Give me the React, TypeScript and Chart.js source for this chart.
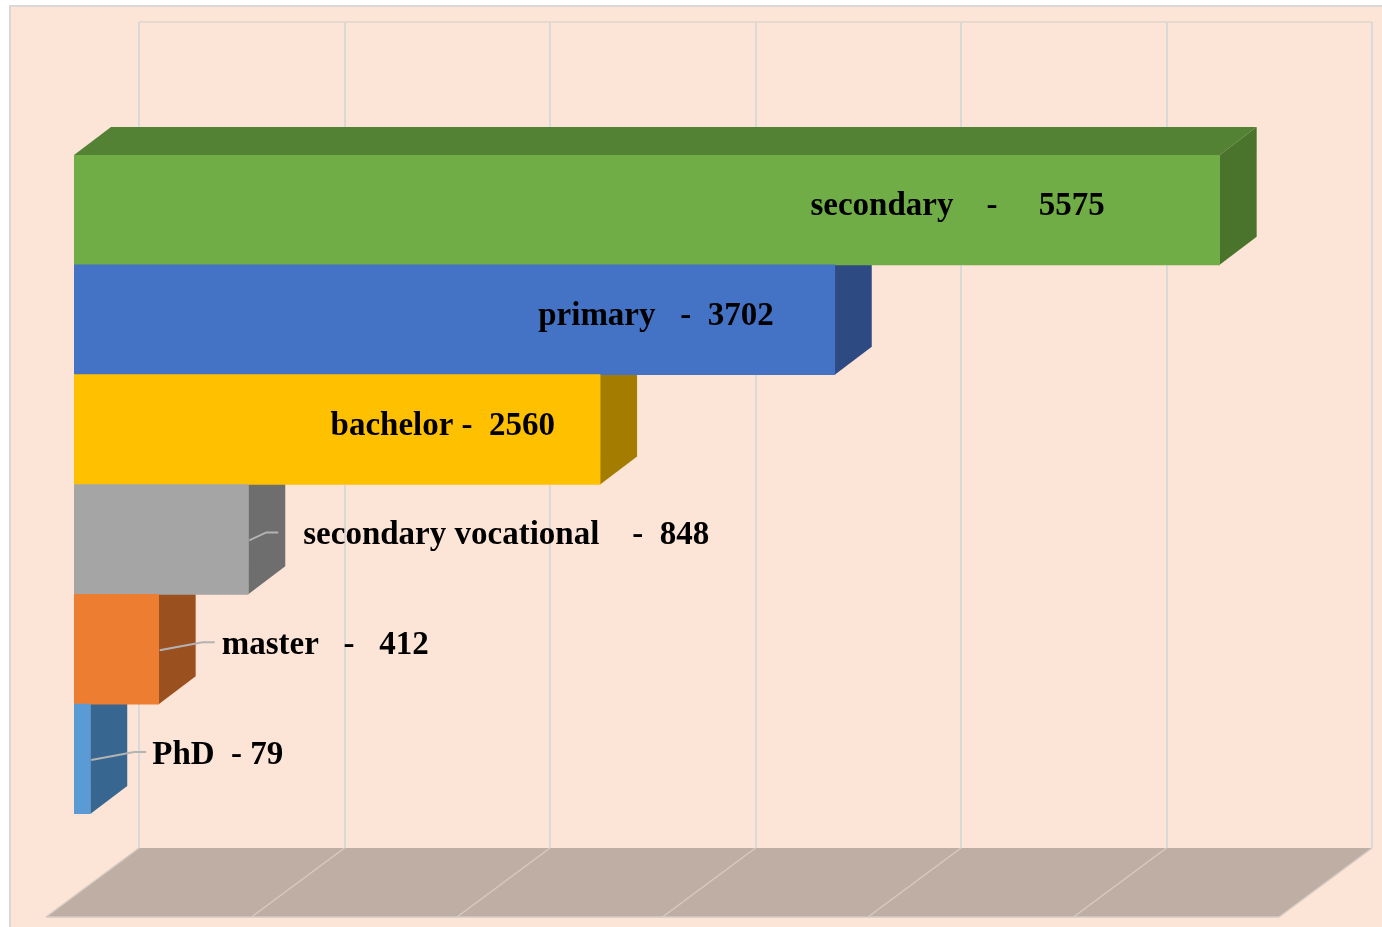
import React, { useEffect, useRef } from "react";
import { Chart, registerables } from "chart.js";

Chart.register(...registerables);

// ---- data ----
const categories = ["secondary", "primary", "bachelor", "secondary vocational", "master", "PhD"];
const values = [5575, 3702, 2560, 848, 412, 79];
const xTicks = [0, 1000, 2000, 3000, 4000, 5000, 6000];

// ---- styles ----
const frontColors = ["#70AD47", "#4472C4", "#FFC000", "#A5A5A5", "#ED7D31", "#5B9BD5"];
const topColors = ["#548235", "#335A9E", "#C59500", "#858585", "#B8611F", "#4A80B0"];
const sideColors = ["#4A732C", "#2E4A82", "#A37C00", "#6E6E6E", "#9B5020", "#376791"];
const spacesBefore = [4, 3, 1, 4, 3, 2];
const spacesAfter = [5, 2, 2, 2, 3, 1];
const labelInside = [true, true, true, false, false, false];
const labelShift = [115, 61, 45, 55, 63, 62];
const leaderGap = [0, 0, 0, 25, 7, 6];

const BAR_DX = 37, BAR_DY = -28;
const WALL_DX = 65, WALL_DY = -48;
const FLOOR_DX = -28, FLOOR_DY = 21;
const FLOOR_BELOW = 82;
const WALL_ABOVE = 85;

const PEACH = "#FCE4D6";

const labelText = (i: number) =>
  categories[i] + " ".repeat(spacesBefore[i]) + "-" + " ".repeat(spacesAfter[i]) + values[i];

const threeD = {
  id: "threeD",
  beforeDatasetsDraw(chart: any) {
    const ctx = chart.ctx as CanvasRenderingContext2D;
    const ca = chart.chartArea;
    const xs = chart.scales.x;
    const W = chart.width, H = chart.height;
    ctx.save();
    ctx.fillStyle = "#FFFFFF";
    ctx.fillRect(0, 0, W, H);
    ctx.fillStyle = PEACH;
    ctx.fillRect(10, 6, W - 10, H - 6);
    ctx.strokeStyle = "#D9D9D9";
    ctx.lineWidth = 2;
    ctx.beginPath();
    ctx.moveTo(10, H);
    ctx.lineTo(10, 6);
    ctx.lineTo(W, 6);
    ctx.stroke();

    const floorPlaneY = ca.bottom + FLOOR_BELOW;
    const floorBackY = floorPlaneY + WALL_DY;
    const floorFrontY = floorPlaneY + FLOOR_DY;
    const wallTop = ca.top + WALL_DY - WALL_ABOVE;
    const x0 = xs.getPixelForValue(xTicks[0]);
    const xN = xs.getPixelForValue(xTicks[xTicks.length - 1]);

    ctx.strokeStyle = "#E8D9CF";
    ctx.lineWidth = 2;
    ctx.beginPath();
    ctx.moveTo(x0 + WALL_DX, wallTop);
    ctx.lineTo(xN + WALL_DX, wallTop);
    ctx.stroke();

    ctx.strokeStyle = "#D9D9D9";
    ctx.lineWidth = 2;
    xTicks.forEach((v) => {
      const x = Math.round(xs.getPixelForValue(v) + WALL_DX);
      ctx.beginPath();
      ctx.moveTo(x, wallTop);
      ctx.lineTo(x, floorBackY);
      ctx.stroke();
    });

    ctx.fillStyle = "#BFAEA3";
    ctx.beginPath();
    ctx.moveTo(x0 + FLOOR_DX, floorFrontY);
    ctx.lineTo(xN + FLOOR_DX, floorFrontY);
    ctx.lineTo(xN + WALL_DX, floorBackY);
    ctx.lineTo(x0 + WALL_DX, floorBackY);
    ctx.closePath();
    ctx.fill();
    ctx.strokeStyle = "#D5CBC5";
    ctx.lineWidth = 1.5;
    xTicks.forEach((v) => {
      const x = xs.getPixelForValue(v);
      ctx.beginPath();
      ctx.moveTo(x + FLOOR_DX, floorFrontY);
      ctx.lineTo(x + WALL_DX, floorBackY);
      ctx.stroke();
    });
    ctx.beginPath();
    ctx.moveTo(x0 + FLOOR_DX, floorFrontY);
    ctx.lineTo(xN + FLOOR_DX, floorFrontY);
    ctx.stroke();

    const meta = chart.getDatasetMeta(0);
    for (let i = meta.data.length - 1; i >= 0; i--) {
      const el: any = meta.data[i];
      const top = el.y - el.height / 2;
      const bot = el.y + el.height / 2;
      const xe = el.x, xb = el.base;
      ctx.fillStyle = topColors[i];
      ctx.beginPath();
      ctx.moveTo(xb, top);
      ctx.lineTo(xb + BAR_DX, top + BAR_DY);
      ctx.lineTo(xe + BAR_DX, top + BAR_DY);
      ctx.lineTo(xe, top);
      ctx.closePath();
      ctx.fill();
      ctx.fillStyle = sideColors[i];
      ctx.beginPath();
      ctx.moveTo(xe, top);
      ctx.lineTo(xe + BAR_DX, top + BAR_DY);
      ctx.lineTo(xe + BAR_DX, bot + BAR_DY);
      ctx.lineTo(xe, bot);
      ctx.closePath();
      ctx.fill();
    }
    ctx.restore();
  },
  afterDatasetsDraw(chart: any) {
    const ctx = chart.ctx as CanvasRenderingContext2D;
    const meta = chart.getDatasetMeta(0);
    ctx.save();
    ctx.font = 'bold 33px "Liberation Serif", "Times New Roman", serif';
    ctx.fillStyle = "#000000";
    ctx.textBaseline = "alphabetic";
    meta.data.forEach((el: any, i: number) => {
      const txt = labelText(i);
      const baseY = el.y + 5;
      if (labelInside[i]) {
        ctx.textAlign = "right";
        ctx.fillText(txt, el.x - labelShift[i], baseY);
      } else {
        const left = el.x + labelShift[i];
        const end = left - leaderGap[i];
        ctx.strokeStyle = "#B3B3B3";
        ctx.lineWidth = 2;
        ctx.beginPath();
        ctx.moveTo(el.x + 1, el.y + 1);
        ctx.lineTo(end - 12, el.y - 7);
        ctx.lineTo(end, el.y - 7);
        ctx.stroke();
        ctx.textAlign = "left";
        ctx.fillText(txt, left, baseY);
      }
    });
    ctx.restore();
  },
};

export default function App() {
  const ref = useRef<HTMLCanvasElement | null>(null);
  useEffect(() => {
    if (!ref.current) return;
    const chart = new Chart(ref.current, {
      type: "bar",
      data: {
        labels: categories,
        datasets: [
          {
            data: values,
            backgroundColor: frontColors,
            borderWidth: 0,
            barPercentage: 1,
            categoryPercentage: 1,
          },
        ],
      },
      options: {
        indexAxis: "y",
        responsive: false,
        maintainAspectRatio: false,
        animation: false,
        layout: { padding: { left: 74, right: 75, top: 155, bottom: 113 } },
        plugins: { legend: { display: false }, tooltip: { enabled: false } },
        scales: {
          x: { type: "linear", min: 0, max: 6000, display: false },
          y: { type: "category", display: false },
        },
      },
      plugins: [threeD],
    } as any);
    return () => chart.destroy();
  }, []);
  return (
    <div style={{ position: "absolute", left: 0, top: 0, width: 1382, height: 927 }}>
      <canvas ref={ref} width={1382} height={927} style={{ display: "block", width: 1382, height: 927 }} />
    </div>
  );
}
